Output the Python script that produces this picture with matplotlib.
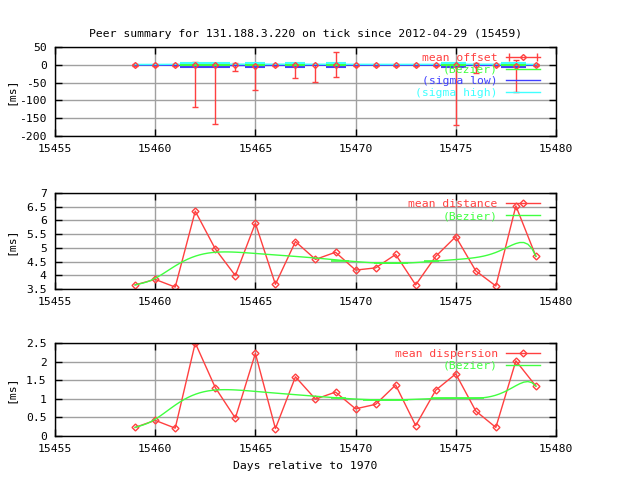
import matplotlib
matplotlib.use('Agg')
import matplotlib.pyplot as plt
from matplotlib.lines import Line2D
from matplotlib.legend_handler import HandlerLine2D
from matplotlib.ticker import FormatStrFormatter
import numpy as np
from math import comb

plt.rcParams['font.family'] = ['DejaVu Sans Mono']
plt.rcParams['font.size'] = 8.2

# days relative to 1970
days = list(range(15459, 15480))

# mean offset [ms] and its min / max (error bars)
offset_mean = [0, 0, 0, -1, -1, 0, -2, 0, -1, -1, 0, 0, 0, 0, 0, 0, -1, -1, 0, -2, 0]
offset_low = [-2, -2, -3, -119, -167, -18, -71, -3, -37, -49, -35, -2, -2, -2, -2, -2, -169, -22, -2, -77, -3]
offset_high = [2, 2, 1, 7, 3, 5, 1, 2, 4, 3, 36, 2, 2, 2, 2, 2, 4, 5, 2, 14, 1]
sigma_low = [-1, -1, -1, -3, -3, -2, -2, -1, -2, -2, -1, -1, -1, -1, -1, -1, -2, -2, -1, -2, -1]
sigma_high = [1, 1, 1, 2, 2, 2, 2, 1, 2, 2, 2, 1, 1, 1, 1, 1, 2, 2, 1, 2, 1]

# flat stretches drawn by the smoothing in the offset panel
offset_band_x0 = [15461.25, 15463.25, 15464.5, 15466.5, 15468.5, 15474.25, 15477.25]
offset_band_x1 = [15463.25, 15463.75, 15465.5, 15467.5, 15469.5, 15475.5, 15478.5]

# mean distance [ms]
distance = [3.65, 3.85, 3.57, 6.34, 4.96, 3.99, 5.9, 3.67, 5.23, 4.58, 4.84,
            4.19, 4.27, 4.76, 3.65, 4.69, 5.41, 4.16, 3.61, 6.53, 4.69]
dist_flat_x0 = [15468.75, 15470.9, 15473.4]
dist_flat_x1 = [15469.65, 15472.6, 15474.15]
dist_flat_y = [4.51, 4.44, 4.51]

# mean dispersion [ms]
dispersion = [0.23, 0.42, 0.21, 2.5, 1.30, 0.48, 2.22, 0.20, 1.59, 0.99, 1.18,
              0.73, 0.85, 1.37, 0.28, 1.23, 1.67, 0.67, 0.23, 2.02, 1.34]
disp_flat_x0 = [15468.75, 15470.35, 15473.75]
disp_flat_x1 = [15469.5, 15472.6, 15476.4]
disp_flat_y = [1.01, 0.97, 1.01]

title = 'Peer summary for 131.188.3.220 on tick since 2012-04-29 (15459)'

RED = '#ff4040'
GREEN = '#40ff40'
BLUE = '#4040ff'
CYAN = '#40ffff'
GRID = '#a0a0a0'


def bezier(x, y, samples=100):
    """
    gnuplot style 'smooth bezier': all points are control points
    """
    x = np.asarray(x, float)
    y = np.asarray(y, float)
    deg = len(x) - 1
    t = np.linspace(0, 1, samples)
    B = np.array([comb(deg, i) * t**i * (1 - t)**(deg - i) for i in range(deg + 1)])
    return B.T @ x, B.T @ y


def style_axes(ax, yticks):
    ax.set_xlim(15455, 15480)
    ax.set_xticks(range(15455, 15481, 5))
    ax.set_ylim(yticks[0], yticks[-1])
    ax.set_yticks(yticks)
    ax.yaxis.set_major_formatter(FormatStrFormatter('%g'))
    ax.grid(True, color=GRID, lw=1)
    ax.set_axisbelow(True)
    ax.tick_params(direction='in', length=5, width=1, top=True, right=True, pad=6)
    for s in ax.spines.values():
        s.set_linewidth(1)
    ax.set_ylabel('[ms]')
    ax.yaxis.set_label_coords(-0.078, 0.5)


def key(ax, handles, labels, colors, handler_map=None):
    # gnuplot style key: text first, sample on the right
    ax.legend(handles, labels, markerfirst=False, frameon=False, loc='upper right',
              bbox_to_anchor=(0.968, 0.935), borderaxespad=0, borderpad=0, labelspacing=0.16,
              handlelength=3, handletextpad=0.7, labelcolor=colors, handler_map=handler_map)


fig = plt.figure(figsize=(6.4, 4.8), dpi=100)
ax1 = fig.add_axes([0.0859, 0.7167, 0.7828, 0.1854])
ax2 = fig.add_axes([0.0859, 0.3979, 0.7828, 0.2])
ax3 = fig.add_axes([0.0859, 0.0917, 0.7828, 0.1938])

#####################################################
# offset panel
yerr = [np.array(offset_mean) - np.array(offset_low),
        np.array(offset_high) - np.array(offset_mean)]
ax1.errorbar(days, offset_mean, yerr=yerr, fmt='D', ms=3, mfc='none', mec=RED,
             ecolor=RED, elinewidth=1, capsize=2.5, capthick=1)
bx, by = bezier(days, offset_mean)
l1, = ax1.plot(bx, by, color=GREEN, lw=1)
bx, by = bezier(days, sigma_low)
l2, = ax1.plot(bx, by, color=BLUE, lw=1)
bx, by = bezier(days, sigma_high)
l3, = ax1.plot(bx, by, color=CYAN, lw=1)
ax1.hlines([-5] * len(offset_band_x0), offset_band_x0, offset_band_x1, color=BLUE, lw=1.5)
ax1.hlines([0] * len(offset_band_x0), offset_band_x0, offset_band_x1, color=GREEN, lw=1.5)
ax1.hlines([4] * len(offset_band_x0), offset_band_x0, offset_band_x1, color=CYAN, lw=1.5)
style_axes(ax1, [-200, -150, -100, -50, 0, 50])
ax1.set_title(title, fontsize=8.2, pad=7)

# errorbar key sample: line with caps at both ends, diamond in the middle
eb_line = Line2D([], [], color=RED, lw=1, marker='D', ms=3, mfc='none')
eb_caps = Line2D([], [], color=RED, ls='none', marker='|', ms=6, mew=1)
key(ax1, [(eb_line, eb_caps), l1, l2, l3],
    ['mean offset', '(Bezier)', '(sigma low)', '(sigma high)'],
    [RED, GREEN, BLUE, CYAN], handler_map={eb_caps: HandlerLine2D(numpoints=2)})

#####################################################
# distance panel
d1, = ax2.plot(days, distance, color=RED, lw=1, marker='D', ms=3.5, mfc='none')
bx, by = bezier(days, distance)
d2, = ax2.plot(bx, by, color=GREEN, lw=1)
ax2.hlines(dist_flat_y, dist_flat_x0, dist_flat_x1, color=GREEN, lw=1.2)
style_axes(ax2, [3.5, 4, 4.5, 5, 5.5, 6, 6.5, 7])
key(ax2, [d1, d2], ['mean distance', '(Bezier)'], [RED, GREEN])

#####################################################
# dispersion panel
p1, = ax3.plot(days, dispersion, color=RED, lw=1, marker='D', ms=3.5, mfc='none')
bx, by = bezier(days, dispersion)
p2, = ax3.plot(bx, by, color=GREEN, lw=1)
ax3.hlines(disp_flat_y, disp_flat_x0, disp_flat_x1, color=GREEN, lw=1.2)
style_axes(ax3, [0, 0.5, 1, 1.5, 2, 2.5])
ax3.set_xlabel('Days relative to 1970', labelpad=5)
key(ax3, [p1, p2], ['mean dispersion', '(Bezier)'], [RED, GREEN])

plt.savefig('out.png', dpi=100)
